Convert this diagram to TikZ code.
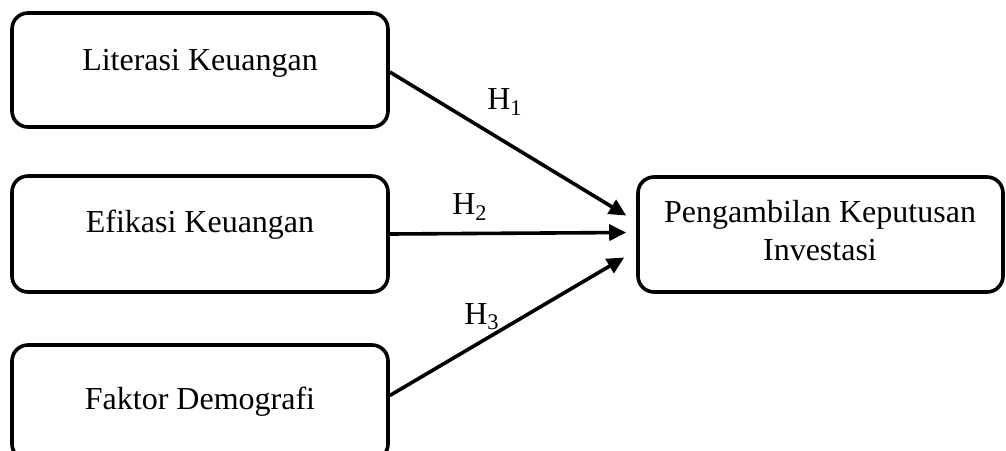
\documentclass[tikz,border=0pt]{standalone}
\usepackage{fontspec}
\setmainfont{Liberation Serif}
\usetikzlibrary{arrows.meta}
\begin{document}
\begin{tikzpicture}[x=0.5pt,y=-0.5pt,
  box/.style={draw,line width=1.8pt,rounded corners=8pt,inner sep=0pt},
  lbl/.style={font=\fontsize{16}{19}\selectfont,inner sep=0pt,align=center},
  conn/.style={line width=1.8pt,-{Triangle[length=8.5pt,width=8pt]}}]
\useasboundingbox (0,0) rectangle (1006,450);
\clip (0,0) rectangle (1006,450);
\node[box,minimum width=188pt,minimum height=57pt] (b1) at (200,70) {};
\node[box,minimum width=188pt,minimum height=58pt] (b2) at (200,234) {};
\node[box,minimum width=188pt,minimum height=57.5pt] (b3) at (200,402.5) {};
\node[box,minimum width=182.5pt,minimum height=57.5pt] (r) at (820.5,234.5) {};
\node[lbl] (t1) at (200,63) {Literasi Keuangan};
\node[lbl] (t2) at (200,225) {Efikasi Keuangan};
\node[lbl] (t3) at (200,402) {Faktor Demografi};
\node[lbl] (tr) at (820,231) {Pengambilan Keputusan\\Investasi};
\coordinate (s1) at ([yshift=-1pt]b1.east);
\coordinate (s3) at ([yshift=3.5pt]b3.east);
\coordinate (e1) at ([xshift=-5pt,yshift=9.5pt]r.west);
\coordinate (e2) at ([xshift=-5pt,yshift=1pt]r.west);
\coordinate (e3) at ([xshift=-6pt,yshift=-11.5pt]r.west);
\draw[conn] (s1) -- (e1);
\draw[conn] (b2.east) -- (e2);
\draw[conn] (s3) -- (e3);
\node[lbl] (h1) at (505,102) {H\textsubscript{1}};
\node[lbl] (h2) at (470,207) {H\textsubscript{2}};
\node[lbl] (h3) at (482,317) {H\textsubscript{3}};
\end{tikzpicture}
\end{document}
